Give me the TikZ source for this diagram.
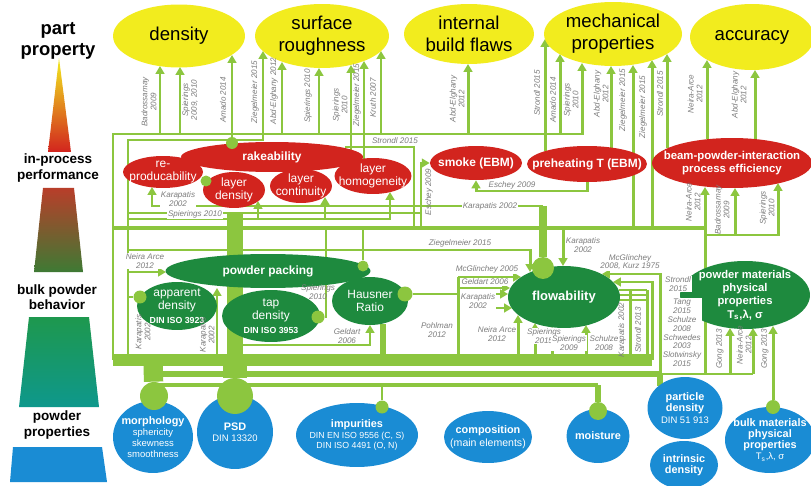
\documentclass[tikz,border=0pt]{standalone}
\usepackage{fontspec}
\setmainfont{Liberation Sans}
\usetikzlibrary{shapes.geometric, arrows.meta}

\definecolor{partyellow}{RGB}{242,236,30}
\definecolor{procred}{RGB}{210,36,30}
\definecolor{bulkgreen}{RGB}{30,138,62}
\definecolor{powblue}{RGB}{26,140,212}
\definecolor{linkgreen}{RGB}{140,198,63}
\definecolor{citegray}{RGB}{125,125,125}
\definecolor{scaleorange}{RGB}{242,150,30}
\definecolor{scalebrown}{RGB}{184,62,42}
\definecolor{scaleolive}{RGB}{62,122,52}
\definecolor{scalegreen}{RGB}{30,152,78}
\definecolor{scaleteal}{RGB}{14,152,140}

\newcommand{\ptitle}[1]{{\bfseries\fontsize{6.2}{7.2}\selectfont #1}}
\newcommand{\normref}[1]{{\bfseries\fontsize{5}{6}\selectfont #1}}

\pgfdeclarelayer{back}
\pgfsetlayers{back,main}

\tikzset{
  prop/.style={ellipse, inner xsep=-12pt, inner ysep=-6pt, align=center, text=white},
  partprop/.style={prop, fill=partyellow, text=black, font=\fontsize{10.6}{12.5}\selectfont},
  procprop/.style={prop, fill=procred, font=\fontsize{6.8}{7.6}\selectfont},
  bulkprop/.style={prop, fill=bulkgreen, font=\fontsize{6.8}{7.8}\selectfont},
  powprop/.style={prop, fill=powblue, font=\fontsize{5.4}{6.4}\selectfont},
  link/.style={draw=linkgreen, line width=1.7pt},
  feed/.style={link, -{Triangle[length=4.5pt, width=5pt]}},
  trunk/.style={draw=linkgreen, line width=#1},
  jdot/.style={circle, fill=linkgreen, inner sep=0pt, minimum size=#1},
  cite/.style={text=citegray, font=\fontsize{4.6}{5}\selectfont\itshape, align=center, inner sep=0.6pt},
  citebox/.style={cite, fill=white},
  tierlabel/.style={font=\bfseries\fontsize{7.7}{8.6}\selectfont, align=center},
}

\begin{document}
\begin{tikzpicture}[x=0.02cm, y=-0.02cm]
\begin{pgfonlayer}{back}
\fill[white] (0,0) rectangle (811,486);
\end{pgfonlayer}
\useasboundingbox (0,0) rectangle (811,486);

% scale on the left
\shade[top color=partyellow, middle color=scaleorange, bottom color=procred] (59,58) -- (71,152) -- (48,152) -- cycle;
\shade[top color=scalebrown, bottom color=scaleolive] (43,188) -- (74,188) -- (83,272) -- (34,272) -- cycle;
\shade[top color=scalegreen, bottom color=scaleteal] (29,317) -- (89,317) -- (99,407) -- (19,407) -- cycle;
\fill[powblue] (13,447) -- (102,447) -- (107,482) -- (10,482) -- cycle;
\node[tierlabel, font=\bfseries\fontsize{10.5}{12.4}\selectfont] (tpart) at (58,41) {part\\property};
\node[tierlabel] (tproc) at (58,168) {in-process\\performance};
\node[tierlabel] (tbulk) at (57,297) {bulk powder\\behavior};
\node[tierlabel] (tpow) at (57,425) {powder\\properties};

% part properties
\node[partprop, minimum width=2.64cm, minimum height=1.26cm] (dens) at (179,36) {density};
\node[partprop, minimum width=2.68cm, minimum height=1.28cm] (surf) at (322,36) {surface\\roughness};
\node[partprop, minimum width=2.6cm, minimum height=1.2cm] (flaws) at (469,34) {internal\\build flaws};
\node[partprop, minimum width=2.76cm, minimum height=1.28cm] (mech) at (613,34) {mechanical\\properties};
\node[partprop, minimum width=2.48cm, minimum height=1.32cm] (acc) at (752,37) {accuracy};

% in-process performance
\node[procprop, minimum width=3.64cm, minimum height=0.6cm] (rake) at (272,157) {\bfseries rakeability};
\node[procprop, minimum width=1.6cm, minimum height=0.64cm] (repro) at (163,172) {re-\\producability};
\node[procprop, minimum width=1.24cm, minimum height=0.72cm] (ldens) at (234,190) {layer\\density};
\node[procprop, minimum width=1.24cm, minimum height=0.68cm] (lcont) at (301,186) {layer\\continuity};
\node[procprop, minimum width=1.54cm, minimum height=0.72cm] (lhom) at (373,176) {layer\\homogeneity};
\node[procprop, minimum width=1.84cm, minimum height=0.68cm] (smoke) at (476,163) {\bfseries smoke (EBM)};
\node[procprop, minimum width=2.4cm, minimum height=0.72cm] (preheat) at (587,164) {\bfseries preheating T (EBM)};
\node[procprop, minimum width=3.2cm, minimum height=1cm, font=\bfseries\fontsize{6.5}{7.8}\selectfont] (beam) at (732,163) {beam-powder-interaction\\process efficiency};

% bulk powder behavior
\node[bulkprop, minimum width=4.1cm, minimum height=0.68cm] (pack) at (268,271) {\bfseries powder packing};
\node[bulkprop, minimum width=1.6cm, minimum height=0.96cm] (appd) at (177,306) {apparent\\density\\\normref{DIN ISO 3923}};
\node[bulkprop, minimum width=1.96cm, minimum height=1.04cm] (tapd) at (271,316) {tap\\density\\\normref{DIN ISO 3953}};
\node[bulkprop, minimum width=1.52cm, minimum height=0.96cm] (haus) at (370,301) {Hausner\\Ratio};
\node[bulkprop, minimum width=2.24cm, minimum height=1.24cm, font=\bfseries\fontsize{7.4}{8.4}\selectfont] (flow) at (564,297) {flowability};
\node[bulkprop, minimum width=2.6cm, minimum height=1.36cm, font=\bfseries\fontsize{6.4}{7.6}\selectfont] (pmat) at (745,295) {powder materials\\physical\\properties\\T\textsubscript{s},λ, σ};

% powder properties
\node[powprop, minimum width=1.6cm, minimum height=1.44cm] (morph) at (153,437) {\ptitle{morphology}\\sphericity\\skewness\\smoothness};
\node[powprop, minimum width=1.52cm, minimum height=1.48cm] (psd) at (235,432) {\ptitle{PSD}\\DIN 13320};
\node[powprop, minimum width=2.44cm, minimum height=1.28cm, font=\fontsize{5}{6}\selectfont] (impur) at (357,435) {\ptitle{impurities}\\DIN EN ISO 9556 (C, S)\\DIN ISO 4491 (O, N)};
\node[powprop, minimum width=1.76cm, minimum height=1.04cm, font=\fontsize{6}{7}\selectfont] (comp) at (488,437) {\ptitle{composition}\\(main elements)};
\node[powprop, minimum width=1.26cm, minimum height=1.08cm] (moist) at (598,436) {\ptitle{moisture}};
\node[powprop, minimum width=1.36cm, minimum height=0.96cm] (idens) at (684,465) {\ptitle{intrinsic}\\\ptitle{density}};
\node[powprop, minimum width=1.5cm, minimum height=1.24cm] (pdens) at (685,408) {\ptitle{particle}\\\ptitle{density}\\DIN 51 913};
\node[powprop, minimum width=1.8cm, minimum height=1.32cm] (bulkm) at (770,440) {\ptitle{bulk materials}\\\ptitle{physical}\\\ptitle{properties}\\T\textsubscript{s},λ, σ};

% junction dots
\node[jdot=0.24cm] (rkdot) at (232,143) {};
\node[jdot=0.22cm] (lddot) at (206,181) {};
\node[jdot=0.22cm] (pkdot) at (363,266) {};
\node[jdot=0.26cm] (addot) at (140,297) {};
\node[jdot=0.26cm] (tddot) at (318,317) {};
\node[jdot=0.3cm] (hrdot) at (405,294) {};
\node[jdot=0.44cm] (fldot) at (543,268) {};
\node[jdot=0.56cm] (mpdot) at (154,396) {};
\node[jdot=0.72cm] (psdot) at (235,396) {};
\node[jdot=0.26cm] (imdot) at (382,407) {};
\node[jdot=0.36cm] (modot) at (598,411) {};
\node[jdot=0.28cm] (bmdot) at (773,407) {};

% references along the vertical links
\foreach \x/\y/\t [count=\i] in {
  149/102/{Badrossamay\\2009}, 190/100/{Spierings\\2009, 2010}, 223/100/{Amado 2014},
  255/92/{Ziegelmeier 2015}, 274/91/{Abd-Elghany 2012}, 308/96/{Spierings 2010},
  340/105/{Spierings\\2010}, 357/95/{Ziegelmeier 2015}, 373/98/{Kruth 2007},
  457/99/{Abd-Elghany\\2012}, 537/93/{Strondl 2015}, 553/100/{Amado 2014},
  571/100/{Spierings\\2010}, 601/94/{Abd-Elghany\\2012}, 623/100/{Ziegelmeier 2015},
  643/107/{Ziegelmeier 2015}, 660/94/{Strondl 2015}, 695/94/{Neira-Arce\\2012},
  739/95/{Abd-Elghany\\2012}, 429/192/{Eschey 2009}, 693/202/{Neira-Arce\\2012},
  722/210/{Badrossamay\\2009}, 767/208/{Spierings\\2010}, 143/332/{Karapatis\\2002},
  207/335/{Karapatis\\2002}, 622/330/{Karapatis 2002}, 638/330/{Strondl 2013},
  720/349/{Gong 2013}, 744/345/{Neira-Arce\\2012}, 765/349/{Gong 2013}}
  \node[cite, rotate=90] (vref\i) at (\x,\y) {\t};

% references along the horizontal links
\foreach \x/\y/\t [count=\i] in {
  178/199/{Karapatis\\2002}, 195/214/{Spierings 2010}, 395/141/{Strondl 2015},
  512/185/{Eschey 2009}, 490/206/{Karapatis 2002}, 460/243/{Ziegelmeier 2015},
  583/245/{Karapatis\\2002}, 487/269/{McGlinchey 2005}, 485/282/{Geldart 2006},
  478/301/{Karapatis\\2002}, 630/262/{McGlinchey\\2008, Kurz 1975}, 678/284/{Strondl\\2015},
  682/333/{Tang\\2015\\Schulze\\2008\\Schwedes\\2003\\Slotwinsky\\2015},
  145/261/{Neira Arce\\2012}, 437/330/{Pohlman\\2012}, 497/334/{Neira Arce\\2012},
  544/336/{Spierings\\2015}, 569/343/{Spierings\\2009}, 604/343/{Schulze\\2008},
  347/336/{Geldart\\2006}}
  \node[citebox] (href\i) at (\x,\y) {\t};
\node[cite] (tdref) at (318,292) {Spierings\\2010};

\begin{pgfonlayer}{back}
% frames and bus up to the part properties
\draw[feed] (113,360) -- (113,134) -| (582,63);
\draw[feed] (128,360) -- (128,140) -| (263,51);
\foreach \x/\y in {160/66, 180/67, 282/62, 319/68, 381/51, 468/64, 560/54}
  \draw[feed] (\x,134) -- (\x,\y);
\draw[feed] (rkdot) -- (232,55);
\draw[feed] (351,161) -- (351,65);
\draw[feed] (364,159) -- (364,61);
\draw[feed] (545,151) -- (545,39);
\draw[feed] (611,148) -- (611,66);
\draw[feed] (633,228) -- (633,65);
\draw[feed] (652,228) -- (652,60);
\draw[feed] (667,148) -- (667,54);
\draw[feed] (707,139) -- (707,60);
\draw[feed] (755,139) -- (755,70);

% links round the process ellipses
\draw[link, line width=2.8pt] (113,228) -- (705,228);
\draw[link] (128,213) -- (421,213);
\draw[feed] (543,206) -| (152,187);
\draw[feed] (128,219) -| (390,192);
\foreach \x/\y in {258/201, 325/197}
  \draw[feed] (\x,219) -- (\x,\y);
\draw[feed] (421,228) |- (smoke.west);
\draw[link] (345,147) -- (414,147) -- (414,228);
\draw[feed] (preheat.south) -- (587,191) -| (smoke.south);

% flowability
\draw[trunk=5pt] (543,206) -- (fldot);
\draw[feed] (563,228) -- (563,266);
\draw[feed] (128,250) -| (530,272);
\draw[link] (458,360) -- (458,277);
\draw[feed] (458,277) -- (521,277);
\draw[feed] (458,288) -- (510,288);
\draw[feed] (hrdot) -- (508,294);
\draw[feed] (458,308) -- (512,308);
\foreach \x/\y in {518/315, 535/323, 552/327, 586/325}
  \draw[feed] (\x,360) -- (\x,\y);
\draw[feed] (660,374) |- (602,274);
\draw[feed] (652,360) |- (613,282);
\foreach \y in {290,295,300}
  \draw[link, line width=1.2pt] (619,\y) -- (647,\y);
\draw[link] (630,290) -- (630,360);
\draw[link] (647,290) -- (647,360);

% packing and its measures
\draw[feed] (128,272) -- (166,272);
\draw[link] (128,297) -- (addot);
\draw[feed] (217,360) -- (217,288);
\draw[link] (pkdot) -- (363,228);
\draw[link] (tddot) -| (326,228);
\draw[feed] (235,345) -| (370,325);
\draw[link, line width=3.4pt] (383,324) -- (383,360);

% bands from the powder properties
\draw[link, line width=6.8pt] (113,360) -- (652,360);
\draw[link, line width=3.4pt] (153,374) -- (660,374);
\draw[link, line width=2.8pt] (153,385) -- (598,385);
\draw[trunk=9pt] (psdot) -- (235,212);
\draw[trunk=14pt] (psdot) -- (235,360);
\draw[trunk=11pt] (mpdot) -- (153,360);
\draw[link] (imdot) -- (382,385);
\draw[link, line width=3.4pt] (modot) -- (598,385);
\draw[link, line width=3.4pt] (660,374) -- (660,386);

% right column
\draw[link] (660,374) -- (753,374);
\draw[feed] (705,374) -- (705,187);
\draw[feed] (705,235) -| (778,183);
\draw[feed] (735,235) -- (735,188);
\draw[feed] (730,374) -- (730,328);
\draw[feed] (753,374) -- (753,328);
\draw[feed] (bmdot) -- (773,326);
\end{pgfonlayer}
\end{tikzpicture}
\end{document}
